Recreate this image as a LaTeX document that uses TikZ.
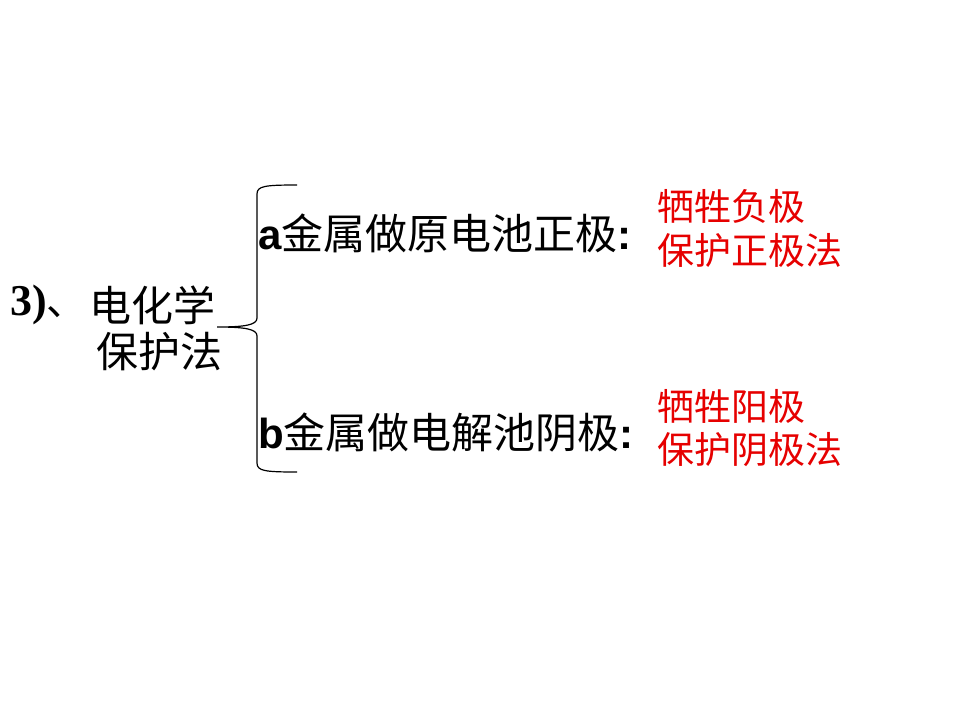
\documentclass[tikz,border=0pt]{standalone}
\usepackage{fontspec}
\setmainfont{Liberation Serif}
\newfontfamily\cjk{Noto Sans CJK SC}
\newfontfamily\lsans{Liberation Sans}
\begin{document}
\begin{tikzpicture}[x=1pt,y=-1pt,
  txt/.style={inner sep=0pt, anchor=west, font=\cjk\fontsize{42}{50}\selectfont},
  red/.style={inner sep=0pt, anchor=west, text=redtxt, font=\cjk\fontsize{37}{45}\selectfont},
  bracel/.style={draw=black, line width=1.2pt}]
\definecolor{redtxt}{RGB}{230,0,0}
\useasboundingbox[fill=white] (0,0) rectangle (960,720);
\node[inner sep=0pt, anchor=west, font=\fontsize{44}{52}\selectfont] (num) at (10,305) {\textbf{3)}{\cjk\fontsize{40}{48}\selectfont 、}};
\node[txt] (l1) at (89,305) {电化学};
\node[txt] (l2) at (96,352) {保护法};
\node[txt] (a) at (258,233) {{\lsans\bfseries a}金属做原电池正极{\lsans\bfseries :}};
\node[txt] (b) at (258,432) {{\lsans\bfseries b}金属做电解池阴极{\lsans\bfseries :}};
\node[red] (r1) at (657,206) {牺牲负极};
\node[red] (r2) at (657,250) {保护正极法};
\node[red] (r3) at (657,406) {牺牲阳极};
\node[red] (r4) at (657,450) {保护阴极法};
\draw[bracel] (297,185) .. controls (265,185) and (257,186) .. (257,194)
  -- (257,318) .. controls (257,325) and (245,327) .. (217,327)
  .. controls (245,327) and (257,329) .. (257,336)
  -- (257,463) .. controls (257,471) and (265,472) .. (297,472);
\end{tikzpicture}
\end{document}
